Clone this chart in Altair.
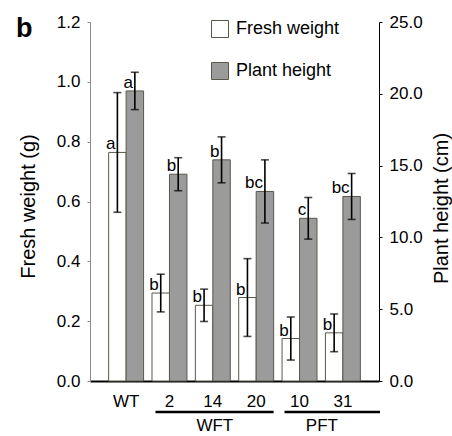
import altair as alt
import pandas as pd

groups = ["WT", "2", "14", "20", "10", "31"]
series = ["Fresh weight", "Plant height"]
fresh = [0.764, 0.294, 0.253, 0.279, 0.142, 0.161]
fresh_err = [0.200, 0.063, 0.054, 0.130, 0.072, 0.063]
fresh_sig = ["a", "b", "b", "b", "b", "b"]
height_v = [20.2, 14.4, 15.4, 13.2, 11.33, 12.85]
height_err = [1.30, 1.15, 1.60, 2.20, 1.45, 1.60]
height_sig = ["a", "b", "b", "bc", "c", "bc"]
family_names = ["WFT", "PFT"]
family_start = ["2", "10"]
family_end = ["20", "31"]
family_mid = ["14", "31"]

W, H = 289, 359
FONT = "Liberation Sans"
STROKE = "#5a584a"

fw = pd.DataFrame({
    "group": groups, "series": series[0], "value": fresh,
    "lo": [v - e for v, e in zip(fresh, fresh_err)],
    "hi": [v + e for v, e in zip(fresh, fresh_err)],
    "sig": fresh_sig,
})
ph = pd.DataFrame({
    "group": groups, "series": series[1], "value": height_v,
    "lo": [v - e for v, e in zip(height_v, height_err)],
    "hi": [v + e for v, e in zip(height_v, height_err)],
    "sig": height_sig,
})
fam = pd.DataFrame({"name": family_names, "start": family_start,
                    "end": family_end, "mid": family_mid})

xscale = alt.Scale(domain=groups, paddingInner=0.194, paddingOuter=0.43)
xoff = alt.XOffset("series:N", scale=alt.Scale(domain=series, paddingInner=0, paddingOuter=0))
fill_scale = alt.Scale(domain=series, range=["#ffffff", "#9b9b9b"])

x_enc = alt.X("group:N", scale=xscale, sort=groups, title=None,
              axis=alt.Axis(labelAngle=0, labelFontSize=17, labelColor="black",
                            labelFont=FONT, ticks=False, domainColor="black",
                            domainWidth=2, labelPadding=12))

def panel(df, domain, ticks, axis_orient, title, titleX, titleY, domain_color, show_legend):
    ysc = alt.Scale(domain=domain, nice=False, zero=True)
    yax = alt.Axis(orient=axis_orient, values=ticks, format=".1f", title=title,
                   labelFontSize=17, labelFont=FONT, labelColor="black",
                   titleFontSize=20, titleFont=FONT, titleFontWeight="normal",
                   titleColor="black", titleAngle=270, titleBaseline="middle",
                   titleAlign="center", titleX=titleX, titleY=titleY,
                   domainColor=domain_color, tickColor=domain_color, tickSize=3,
                   labelPadding=7, grid=False)
    base = alt.Chart(df)
    if show_legend:
        legend = alt.Legend(
            orient="none", legendX=121, legendY=-2, title=None,
            symbolType="square", symbolSize=289, symbolStrokeColor=STROKE,
            symbolStrokeWidth=1, labelFontSize=18, labelFont=FONT,
            labelColor="black", rowPadding=20, labelOffset=7, padding=0,
            symbolOpacity=1,
        )
        fill = alt.Fill("series:N", scale=fill_scale, legend=legend)
    else:
        fill = alt.Fill("series:N", scale=fill_scale, legend=None)
    bars = base.mark_bar(stroke=STROKE, strokeWidth=1, opacity=1).encode(
        x=x_enc, xOffset=xoff,
        y=alt.Y("value:Q", scale=ysc, axis=yax),
        fill=fill,
    )
    rule = base.mark_rule(color="black", strokeWidth=1.6).encode(
        x=alt.X("group:N", scale=xscale, sort=groups), xOffset=xoff,
        y=alt.Y("lo:Q", scale=ysc), y2="hi:Q",
    )
    cap_lo = base.mark_tick(color="black", size=8, thickness=1.6, orient="horizontal").encode(
        x=alt.X("group:N", scale=xscale, sort=groups), xOffset=xoff,
        y=alt.Y("lo:Q", scale=ysc),
    )
    cap_hi = base.mark_tick(color="black", size=8, thickness=1.6, orient="horizontal").encode(
        x=alt.X("group:N", scale=xscale, sort=groups), xOffset=xoff,
        y=alt.Y("hi:Q", scale=ysc),
    )
    letters = base.mark_text(align="right", baseline="alphabetic", dx=-2, dy=-3,
                             fontSize=17, font=FONT, color="black").encode(
        x=alt.X("group:N", scale=xscale, sort=groups), xOffset=xoff,
        y=alt.Y("value:Q", scale=ysc), text="sig:N",
    )
    return alt.layer(bars, rule, cap_lo, cap_hi, letters)

left = panel(fw, [0, 1.2], [0, 0.2, 0.4, 0.6, 0.8, 1.0, 1.2], "left",
             "Fresh weight (g)", -62, 184, "#8c8c8c", True)
right = panel(ph, [0, 25], [0, 5, 10, 15, 20, 25], "right",
              "Plant height (cm)", 62, 186, "black", False)

fam_base = alt.Chart(fam)
wft_line = fam_base.transform_filter(alt.datum.name == "WFT").mark_rule(
    color="black", strokeWidth=2.5).encode(
    x=alt.X("start:N", scale=xscale, sort=groups, bandPosition=0.1),
    x2=alt.X2("end:N", bandPosition=1),
    y=alt.value(H + 31),
)
pft_line = fam_base.transform_filter(alt.datum.name == "PFT").mark_rule(
    color="black", strokeWidth=2.5).encode(
    x=alt.X("start:N", scale=xscale, sort=groups, bandPosition=0.07),
    x2=alt.value(W + 1),
    y=alt.value(H + 31),
)
wft_text = fam_base.transform_filter(alt.datum.name == "WFT").mark_text(
    fontSize=17, font=FONT, color="black", baseline="alphabetic",
    align="center", dx=2).encode(
    x=alt.X("mid:N", scale=xscale, sort=groups, bandPosition=0.5),
    y=alt.value(H + 50),
    text="name:N",
)
pft_text = fam_base.transform_filter(alt.datum.name == "PFT").mark_text(
    fontSize=17, font=FONT, color="black", baseline="alphabetic",
    align="center", dx=-21).encode(
    x=alt.X("mid:N", scale=xscale, sort=groups, bandPosition=0.5),
    y=alt.value(H + 50),
    text="name:N",
)
panel_label = alt.Chart(pd.DataFrame({"t": ["b"]})).mark_text(
    fontSize=27, fontWeight="bold", font=FONT, color="black",
    align="left", baseline="alphabetic").encode(
    x=alt.value(-74), y=alt.value(15), text="t:N")

chart = alt.layer(left, right, wft_line, pft_line, wft_text, pft_text, panel_label).resolve_scale(
    y="independent"
).properties(
    width=W, height=H,
    autosize=alt.AutoSizeParams(type="none"),
    padding={"left": 90, "top": 22, "right": 73, "bottom": 55},
).configure_view(stroke=None).configure_axis(labelFont=FONT)

chart.save("out.html", embed_options={"renderer": "svg", "actions": False})
